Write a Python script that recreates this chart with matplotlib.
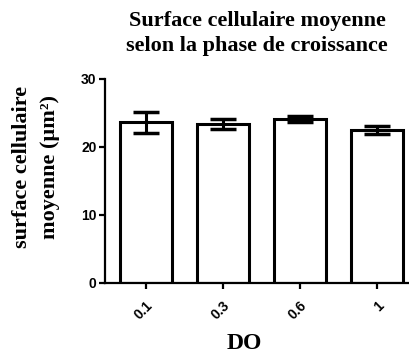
import matplotlib
matplotlib.use("Agg")
import matplotlib.pyplot as plt
import numpy as np

categories = ["0.1", "0.3", "0.6", "1"]
means = [23.6, 23.4, 24.1, 22.5]
sems = [1.5, 0.7, 0.45, 0.6]
yticks = [0, 10, 20, 30]

serif = ["Liberation Serif", "DejaVu Serif"]
sans = ["Liberation Sans", "DejaVu Sans"]

fig = plt.figure(figsize=(4.09, 3.54), dpi=100)
ax = fig.add_axes([0.2567, 0.2006, 0.7433, 0.5763])

x = np.arange(len(categories))
ax.bar(x, means, width=0.68, color="white", edgecolor="black", linewidth=2.2, zorder=2)
ax.errorbar(x, means, yerr=sems, fmt="none", ecolor="black", elinewidth=2.2,
            capsize=9.5, capthick=2.5, zorder=3)

ax.set_xlim(-0.53, 3.42)
ax.set_ylim(0, 30)
ax.set_yticks(yticks)
ax.set_yticklabels([str(t) for t in yticks], fontfamily=sans, fontweight="bold", fontsize=10)
ax.set_xticks(x)
ax.set_xticklabels(categories, rotation=45, fontfamily=sans, fontweight="bold", fontsize=10,
                   ha="right", rotation_mode="anchor")

for s in ["top", "right"]:
    ax.spines[s].set_visible(False)
for s in ["left", "bottom"]:
    ax.spines[s].set_linewidth(1.6)
ax.tick_params(axis="both", direction="out", length=4, width=1.6, pad=2)
ax.tick_params(axis="x", pad=7)

fig.text(0.088, 0.528, "surface cellulaire\nmoyenne (µm²)", rotation=90,
         ha="center", va="center", fontfamily=serif, fontweight="bold",
         fontsize=16, linespacing=1.5)
fig.text(0.597, 0.031, "DO", ha="center", va="center", fontfamily=serif,
         fontweight="bold", fontsize=17)

fig.text(0.629, 0.905, "Surface cellulaire moyenne\nselon la phase de croissance",
         ha="center", va="center", fontfamily=serif, fontweight="bold", fontsize=16,
         linespacing=1.35)

fig.savefig("out.png", dpi=100)
